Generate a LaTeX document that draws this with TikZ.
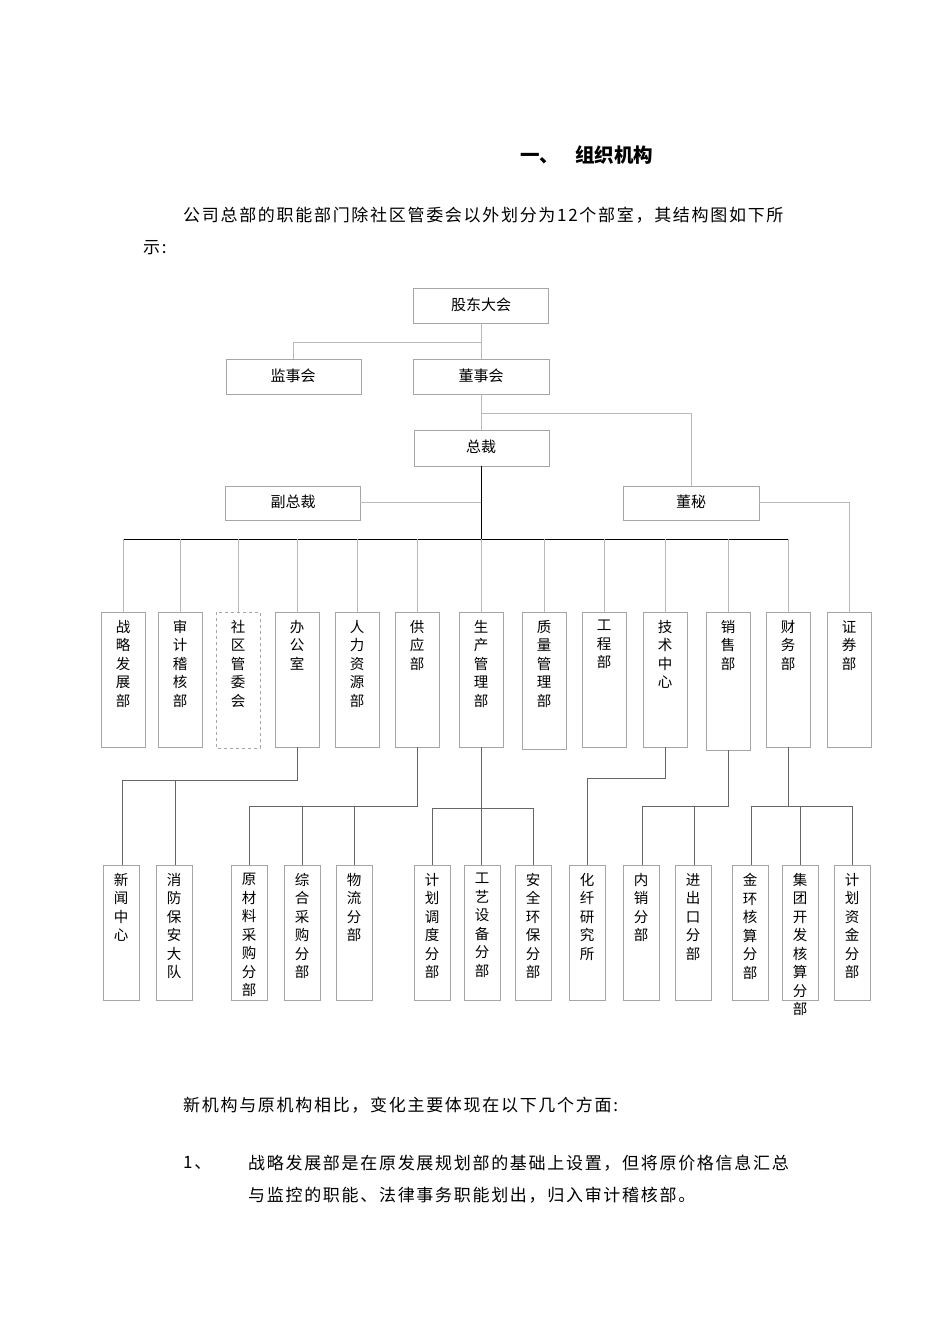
\documentclass[tikz,border=0pt]{standalone}
\usepackage{fontspec}
\setmainfont{Noto Sans CJK SC}
\newfontfamily\bodyfont[LetterSpace=10]{Noto Sans CJK SC}
\begin{document}
\begin{tikzpicture}[x=1pt,y=-1pt,
  box/.style={draw=gray!70,line width=0.8pt},
  lnk/.style={draw=gray!55,line width=0.8pt},
  dlnk/.style={draw=gray!80!black,line width=0.8pt},
  trunk/.style={draw=black,line width=0.9pt},
  lbl/.style={font=\fontsize{15}{18}\selectfont,inner sep=0},
  vt/.style={font=\fontsize{14.5}{18.5}\selectfont,inner sep=0,anchor=north,align=center},
  body/.style={font=\bodyfont\fontsize{17}{20}\selectfont,inner sep=0,anchor=west}]
\useasboundingbox (0,0) rectangle (950,1344);
\fill[white] (0,0) rectangle (950,1344);
% texts
\node[inner sep=0,anchor=west,font=\fontsize{19.5}{22}\selectfont\bfseries] (title) at (520,155) {一、\hspace{16pt}组织机构};
\node[body] (p1) at (183,215) {公司总部的职能部门除社区管委会以外划分为12个部室，其结构图如下所};
\node[body] (p2) at (143,248) {示:};
\node[body] (p3) at (183,1105) {新机构与原机构相比，变化主要体现在以下几个方面:};
\node[body] (p4) at (183,1163) {1、};
\node[body] (p5) at (248,1163) {战略发展部是在原发展规划部的基础上设置，但将原价格信息汇总};
\node[body] (p6) at (248,1195) {与监控的职能、法律事务职能划出，归入审计稽核部。};
% top boxes
\draw[box] (413,288) rectangle (548,323); \node[lbl] (gd) at (481,305) {股东大会};
\draw[box] (226,359) rectangle (361,394); \node[lbl] (js) at (293,376) {监事会};
\draw[box] (413,359) rectangle (549,394); \node[lbl] (ds) at (481,376) {董事会};
\draw[box] (414,430) rectangle (549,466); \node[lbl] (zc) at (481,447) {总裁};
\draw[box] (225,486) rectangle (360,520); \node[lbl] (fz) at (293,502) {副总裁};
\draw[box] (623,486) rectangle (759,520); \node[lbl] (dm) at (691,502) {董秘};
\coordinate (a1) at (481,323); \coordinate (a2) at (481,359); \coordinate (a3) at (293,359);
\draw[lnk] (a1) -- (a2); \draw[lnk] (481,342) -| (a3);
\draw[lnk] (481,394) -- (481,430); \draw[lnk] (481,413) -| (691,486);
\draw[lnk] (360,502) -- (481,502);
\draw[lnk] (759,502) -| (849,612);
\draw[trunk] (481,466) -- (481,539);
\draw[trunk] (124,539) -- (788,539);
% departments
\foreach \c/\t/\b in {123/{战\\略\\发\\展\\部}/747,180/{审\\计\\稽\\核\\部}/747,297/{办\\公\\室}/747,357/{人\\力\\资\\源\\部}/747,417/{供\\应\\部}/747,481/{生\\产\\管\\理\\部}/747,544/{质\\量\\管\\理\\部}/749,604/{工\\程\\部}/747,665/{技\\术\\中\\心}/747,728/{销\\售\\部}/750,788/{财\\务\\部}/747,849/{证\\券\\部}/747}{
  \draw[box] (\c-22,612) rectangle (\c+22,\b);
  \node[vt] at (\c,620) {\t};
}
\foreach \c in {123,180,238,297,357,417,481,544,604,665,728,788}{\draw[lnk] (\c,539) -- (\c,612);}
\draw[box,dashed] (216,612) rectangle (260,748);
\node[vt] (sq) at (238,620) {社\\区\\管\\委\\会};
% sub connectors
\draw[dlnk] (297,747) -- (297,780) -- (122,780) -- (122,865);
\draw[dlnk] (175,780) -- (175,865);
\draw[dlnk] (417,747) -- (417,806) -- (249,806) -- (249,865);
\draw[dlnk] (302,806) -- (302,865); \draw[dlnk] (354,806) -- (354,865);
\draw[dlnk] (481,747) -- (481,865);
\draw[dlnk] (432,865) -- (432,808) -- (533,808) -- (533,865);
\draw[dlnk] (665,747) -- (665,778) -- (587,778) -- (587,865);
\draw[dlnk] (728,750) -- (728,806) -- (642,806) -- (642,865);
\draw[dlnk] (694,806) -- (694,865);
\draw[dlnk] (788,747) -- (788,806);
\draw[dlnk] (751,865) -- (751,806) -- (852,806) -- (852,865);
\draw[dlnk] (800,806) -- (800,865);
% sub boxes
\foreach \c/\t in {121/{新\\闻\\中\\心},174/{消\\防\\保\\安\\大\\队},249/{原\\材\\料\\采\\购\\分\\部},302/{综\\合\\采\\购\\分\\部},354/{物\\流\\分\\部},432/{计\\划\\调\\度\\分\\部},482/{工\\艺\\设\\备\\分\\部},533/{安\\全\\环\\保\\分\\部},587/{化\\纤\\研\\究\\所},641/{内\\销\\分\\部},693/{进\\出\\口\\分\\部},750/{金\\环\\核\\算\\分\\部},800/{集\\团\\开\\发\\核\\算\\分\\部},852/{计\\划\\资\\金\\分\\部}}{
  \draw[box] (\c-18,865) rectangle (\c+18,1000);
  \node[vt] at (\c,873) {\t};
}
\end{tikzpicture}
\end{document}
